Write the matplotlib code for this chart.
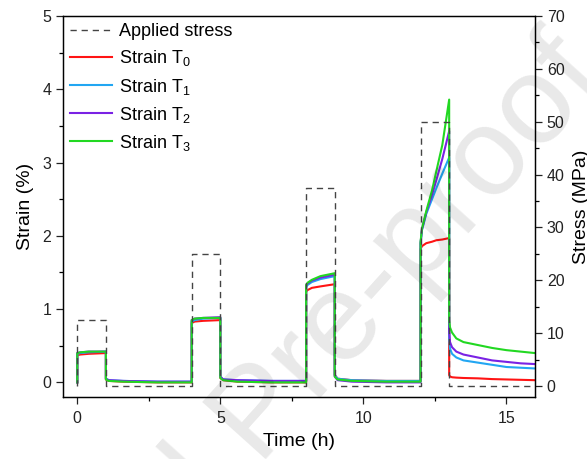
import matplotlib
matplotlib.use('Agg')
import matplotlib.pyplot as plt
from matplotlib.ticker import MultipleLocator

plt.rcParams['font.family'] = ['Liberation Sans', 'DejaVu Sans']
plt.rcParams['mathtext.fontset'] = 'custom'
plt.rcParams['mathtext.rm'] = 'Liberation Sans'
plt.rcParams['mathtext.it'] = 'Liberation Sans'

# applied stress program (MPa)
stress_t = [0, 0, 1, 1, 4, 4, 5, 5, 8, 8, 9, 9, 12, 12, 13, 13, 16]
stress = [0, 12.5, 12.5, 0, 0, 25, 25, 0, 0, 37.5, 37.5, 0, 0, 50, 50, 0, 0]

# time points of strain readings (h)
t = [0.0, 0.0, 0.1, 0.4, 1.0, 1.0, 1.1, 1.6, 2.8, 4.0,
     4.0, 4.1, 4.4, 5.0, 5.0, 5.1, 5.6, 6.8, 8.0, 8.0,
     8.05, 8.2, 8.5, 9.0, 9.0, 9.1, 9.6, 10.8, 12.0, 12.0,
     12.05, 12.2, 12.4, 12.55, 12.76, 13.0, 13.0, 13.03, 13.1, 13.25,
     13.5, 14.0, 14.5, 15.0, 15.5, 16.0]

strain_t0 = [0.0, 0.37, 0.38, 0.39, 0.40, 0.04, 0.02, 0.01, 0.0, 0.0,
             0.81, 0.83, 0.84, 0.85, 0.06, 0.03, 0.01, 0.0, 0.0, 1.24,
             1.26, 1.29, 1.31, 1.34, 0.10, 0.05, 0.03, 0.02, 0.02, 1.82,
             1.86, 1.90, 1.92, 1.94, 1.95, 1.97, 0.10, 0.08, 0.07, 0.065,
             0.06, 0.055, 0.045, 0.04, 0.035, 0.03]
strain_t1 = [0.0, 0.39, 0.40, 0.41, 0.42, 0.05, 0.03, 0.02, 0.01, 0.01,
             0.83, 0.85, 0.87, 0.88, 0.08, 0.04, 0.03, 0.02, 0.02, 1.30,
             1.33, 1.37, 1.41, 1.45, 0.10, 0.05, 0.03, 0.02, 0.02, 1.90,
             2.08, 2.30, 2.50, 2.65, 2.85, 3.07, 0.60, 0.46, 0.39, 0.34,
             0.30, 0.27, 0.24, 0.21, 0.20, 0.19]
strain_t2 = [0.0, 0.40, 0.41, 0.42, 0.42, 0.05, 0.03, 0.02, 0.01, 0.01,
             0.85, 0.87, 0.88, 0.89, 0.08, 0.04, 0.03, 0.02, 0.02, 1.32,
             1.35, 1.39, 1.43, 1.47, 0.08, 0.03, 0.01, 0.0, 0.0, 1.90,
             2.09, 2.32, 2.56, 2.76, 3.05, 3.43, 0.70, 0.55, 0.48, 0.42,
             0.38, 0.34, 0.30, 0.28, 0.26, 0.25]
strain_t3 = [0.0, 0.40, 0.41, 0.42, 0.42, 0.04, 0.02, 0.01, 0.0, 0.0,
             0.85, 0.87, 0.88, 0.88, 0.06, 0.03, 0.01, 0.0, 0.0, 1.33,
             1.36, 1.40, 1.45, 1.49, 0.08, 0.04, 0.02, 0.01, 0.01, 1.92,
             2.10, 2.34, 2.62, 2.88, 3.24, 3.86, 0.85, 0.75, 0.68, 0.60,
             0.55, 0.51, 0.47, 0.44, 0.42, 0.40]

labels = ['Strain T$_0$', 'Strain T$_1$', 'Strain T$_2$', 'Strain T$_3$']
colors = ['#ff1414', '#22a6f2', '#7a22e4', '#22d822']

fig = plt.figure(figsize=(5.87, 4.59), dpi=100)
ax = fig.add_axes([0.1073, 0.135, 0.8041, 0.830])
ax2 = ax.twinx()

lines = []
for ys, lab, c in zip([strain_t0, strain_t1, strain_t2, strain_t3], labels, colors):
    ln, = ax.plot(t, ys, color=c, lw=1.5, label=lab)
    lines.append(ln)

sl, = ax2.plot(stress_t, stress, color='#444444', lw=1.0, linestyle=(0, (4.5, 3.5)),
               label='Applied stress')

ax.set_xlim(-0.5, 16)
ax.set_ylim(-0.2, 5)
ax2.set_ylim(-2.1, 70)

ax.xaxis.set_major_locator(MultipleLocator(5))
ax.xaxis.set_minor_locator(MultipleLocator(2.5))
ax.yaxis.set_major_locator(MultipleLocator(1))
ax.yaxis.set_minor_locator(MultipleLocator(0.5))
ax2.yaxis.set_major_locator(MultipleLocator(10))
ax2.yaxis.set_minor_locator(MultipleLocator(5))

for a in (ax, ax2):
    a.tick_params(which='major', direction='out', length=5, width=0.9, labelsize=11.5, colors='#222222')
    a.tick_params(which='minor', direction='out', length=3, width=0.9)
    for s in a.spines.values():
        s.set_linewidth(0.9)
ax.tick_params(axis='x', pad=5)

ax.set_xlabel('Time (h)', fontsize=14, labelpad=5)
ax.set_ylabel('Strain (%)', fontsize=14, labelpad=6)
ax2.set_ylabel('Stress (MPa)', fontsize=14, labelpad=6)

ax.legend([sl] + lines, ['Applied stress'] + labels, loc='upper left', frameon=False,
          fontsize=13, handlelength=2.3, handletextpad=0.4, labelspacing=0.45,
          borderaxespad=0.0, bbox_to_anchor=(0.0, 1.0))

# journal watermark
fig.text(0.444, 0.092, 'Journal Pre-proof', fontsize=90, color='#000000', alpha=0.09,
         rotation=48, ha='center', va='center', rotation_mode='anchor')

fig.savefig('out.png', dpi=100)
